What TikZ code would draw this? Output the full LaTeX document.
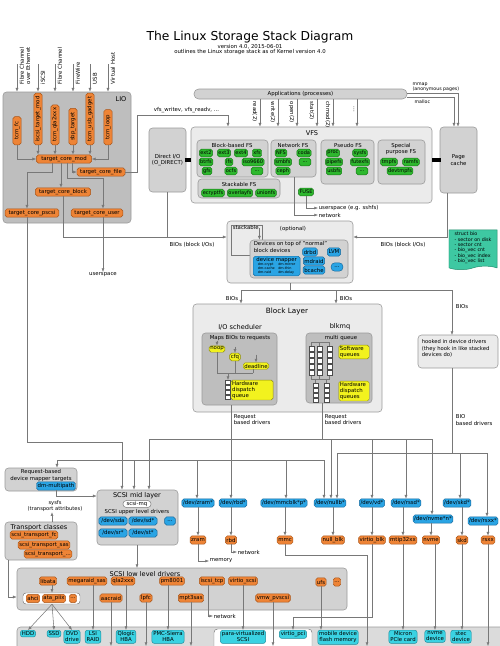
\documentclass[tikz,border=0pt]{standalone}
\usepackage{fontspec}
\setmainfont{DejaVu Sans}
\usepackage{tikz}
\usetikzlibrary{arrows.meta, positioning, fit, shapes.symbols}

\definecolor{groupLight}{HTML}{EBEBEB}
\definecolor{groupMid}{HTML}{D2D2D2}
\definecolor{groupDark}{HTML}{BEBEBE}
\definecolor{edgeGray}{HTML}{9A9A9A}
\definecolor{lineGray}{HTML}{787878}
\definecolor{drvFill}{HTML}{EE8436}
\definecolor{drvEdge}{HTML}{A85418}
\definecolor{fsFill}{HTML}{2EB82E}
\definecolor{fsEdge}{HTML}{1B7A1B}
\definecolor{devFill}{HTML}{2AA4E4}
\definecolor{devEdge}{HTML}{17689C}
\definecolor{qFill}{HTML}{F2F21E}
\definecolor{qEdge}{HTML}{8C8C10}
\definecolor{hwFill}{HTML}{3AD2E2}
\definecolor{hwEdge}{HTML}{1B8C9C}
\definecolor{bioFill}{HTML}{3EC8A2}
\definecolor{bioEdge}{HTML}{1E8A6A}

\newcommand{\diagsub}{\fontsize{4.6}{5.2}\selectfont}
\newcommand{\diagsmall}{\fontsize{4.6}{5.3}\selectfont}
\newcommand{\diagfs}{\fontsize{4.3}{5}\selectfont}
\newcommand{\diagtiny}{\fontsize{2.9}{3.3}\selectfont}
\newcommand{\diaghead}{\fontsize{5.6}{6.4}\selectfont}

\begin{document}
\begin{tikzpicture}[
    x=0.3mm, y=-0.3mm,
    % Linien und Pfeile
    conn/.style={draw=lineGray, line width=0.45pt},
    arr/.style={conn, -{Latex[length=3.2pt, width=2.6pt]}},
    % Hintergrund-Boxen
    grplight/.style={draw=edgeGray, fill=groupLight, rounded corners=3pt, inner sep=0pt, line width=0.5pt},
    grpmid/.style={grplight, fill=groupMid},
    grpdark/.style={grplight, fill=groupDark},
    % Beschriftungen
    txt/.style={font=\diagsmall, inner sep=0.5pt},
    headtxt/.style={font=\diaghead, inner sep=0.5pt},
    % Knoten nach Farbe
    drvnode/.style={draw=drvEdge, fill=drvFill, rounded corners=1.6pt, font=\diagsmall, inner sep=1pt, minimum height=7pt},
    fsnode/.style={draw=fsEdge, fill=fsFill, rounded corners=1.6pt, font=\diagfs, inner sep=0.9pt, minimum height=6.5pt},
    devnode/.style={draw=devEdge, fill=devFill, rounded corners=1.6pt, font=\diagsmall, inner sep=1pt, minimum height=7pt},
    queuenode/.style={draw=qEdge, fill=qFill, rounded corners=1.6pt, font=\diagsmall, inner sep=1pt, align=left},
    hwnode/.style={draw=hwEdge, fill=hwFill, rounded corners=2pt, font=\diagsmall, inner sep=1.2pt, align=center, anchor=north},
    cell/.style={draw=black!70, fill=white, line width=0.3pt}
  ]
  \useasboundingbox (0,0) rectangle (500,646);

  % --- TITEL ---
  \node[font=\fontsize{10.5}{12}\selectfont] (title) at (250,37) {The Linux Storage Stack Diagram};
  \node[font=\diagsub, inner sep=0pt] (version) at (250,47) {version 4.0, 2015-06-01};
  \node[font=\diagsub, inner sep=0pt] (outline) at (250,52.5) {outlines the Linux storage stack as of Kernel version 4.0};

  % --- LIO ---
  \node[grpdark, fit={(3,92) (131,223)}] (lio) {};
  \node[headtxt] at (121,99) {LIO};
  \node[drvnode, rotate=90, anchor=west, minimum width=24pt] (tcmfc) at (17,145) {tcm\_fc};
  \node[drvnode, rotate=90, anchor=west, minimum width=44pt] (iscsitgt) at (38,145) {iscsi\_target\_mod};
  \node[drvnode, rotate=90, anchor=west, minimum width=34pt] (tcmqla) at (55,145) {tcm\_qla2xxx};
  \node[drvnode, rotate=90, anchor=west, minimum width=31pt] (sbptgt) at (73,145) {sbp\_target};
  \node[drvnode, rotate=90, anchor=west, minimum width=44pt] (tcmusb) at (90,145) {tcm\_usb\_gadget};
  \node[drvnode, rotate=90, anchor=west, minimum width=30pt] (tcmloop) at (108,145) {tcm\_loop};

  % Eingaenge der Fabrics
  \coordinate (inFcoe) at (17,64);
  \coordinate (inIscsi) at (38,64);
  \coordinate (inFc) at (55,64);
  \coordinate (inFw) at (73,64);
  \coordinate (inUsb) at (90,64);
  \coordinate (inVhost) at (108,64);
  \node[txt, rotate=90, anchor=north west, align=left] at (19,85) {Fibre Channel\\over Ethernet};
  \node[txt, rotate=90, anchor=north west] at (40,85) {iSCSI};
  \node[txt, rotate=90, anchor=north west] at (57,85) {Fibre Channel};
  \node[txt, rotate=90, anchor=north west] at (75,85) {FireWire};
  \node[txt, rotate=90, anchor=north west] at (92,85) {USB};
  \node[txt, rotate=90, anchor=north west] at (110,85) {Virtual Host};
  \draw[arr] (inFcoe) -- (inFcoe |- lio.north);
  \draw[arr] (inIscsi) -- (inIscsi |- lio.north);
  \draw[arr] (inFc) -- (inFc |- lio.north);
  \draw[arr] (inFw) -- (inFw |- lio.north);
  \draw[arr] (inUsb) -- (inUsb |- lio.north);
  \draw[arr] (inVhost) -- (inVhost |- lio.north);

  \node[drvnode, minimum width=47pt] (tcmod) at (64,159) {target\_core\_mod};
  \node[drvnode, minimum width=41pt] (tcfile) at (101,172) {target\_core\_file};
  \node[drvnode, minimum width=47pt] (tcblock) at (63,192) {target\_core\_block};
  \node[drvnode, minimum width=46pt] (tcpscsi) at (32,213) {target\_core\_pscsi};
  \node[drvnode, minimum width=44pt] (tcuser) at (97,213) {target\_core\_user};

  \draw[arr] (tcmfc.west) |- (tcmod.west);
  \draw[arr] (iscsitgt.west) -- (iscsitgt.west |- tcmod.north);
  \draw[arr] (tcmqla.west) -- (tcmqla.west |- tcmod.north);
  \draw[arr] (sbptgt.west) -- (sbptgt.west |- tcmod.north);
  \draw[arr] (tcmusb.west) -- (tcmusb.west |- tcmod.north);
  \draw[arr] (tcmloop.west) |- (tcmod.east);
  \draw[arr] (tcmod.south -| 52,0) -- (52,172) -| (tcpscsi.north -| 27,0);
  \draw[arr] (tcmod.south -| 61,0) -- (tcblock.north -| 61,0);
  \draw[arr] (tcmod.south -| 67,0) -- (67,178) -| (tcuser.north -| 103,0);
  \draw[arr] (tcmod.south -| 72,0) |- (tcfile.west);

  \node[txt, anchor=north] (usrsp) at (103,272) {userspace};
  \draw[arr] (tcuser.south -| 103,0) -- (usrsp.north);

  % --- APPLICATIONS / VFS ---
  \node[grpmid, rounded corners=4pt, fit={(194,89) (407,99)}] (apps) {};
  \node[txt] at (apps.center) {Applications (processes)};

  \node[grpmid, fit={(149,128) (186,192)}] (dio) {};
  \node[txt, align=center] at (dio.center) {Direct I/O\\(O\_DIRECT)};

  \node[grplight, fit={(191,127) (432,203)}] (vfs) {};
  \node[headtxt] at (312,133) {VFS};

  \node[grpmid, fit={(440,127) (477,193)}] (pcache) {};
  \node[txt, align=center] at (pcache.center) {Page\\cache};

  \draw[line width=3pt] ([xshift=-1.5pt]dio.east) -- (dio.east -| vfs.west);
  \draw[line width=3pt] (vfs.east |- pcache.west) -- ([xshift=1.5pt]pcache.west);

  % Systemaufrufe
  \node[txt, rotate=-90, anchor=north west] at (258,101) {read(2)};
  \node[txt, rotate=-90, anchor=north west] at (276,101) {write(2)};
  \node[txt, rotate=-90, anchor=north west] at (295,101) {open(2)};
  \node[txt, rotate=-90, anchor=north west] at (315,101) {stat(2)};
  \node[txt, rotate=-90, anchor=north west] at (331,101) {chmod(2)};
  \node[txt, rotate=-90, anchor=north west] at (355,106) {...};
  \draw[arr] (apps.south -| 260,0) -- (vfs.north -| 260,0);
  \draw[arr] (apps.south -| 278,0) -- (vfs.north -| 278,0);
  \draw[arr] (apps.south -| 297,0) -- (vfs.north -| 297,0);
  \draw[arr] (apps.south -| 317,0) -- (vfs.north -| 317,0);
  \draw[arr] (apps.south -| 333,0) -- (vfs.north -| 333,0);
  \draw[arr] (apps.south -| 357,0) -- (vfs.north -| 357,0);

  \draw[arr] (apps.east |- 0,93.5) -| (pcache.north -| 458,0);
  \draw[arr] (apps.east |- 0,97.5) -| (pcache.north -| 454,0);
  \node[font=\fontsize{4}{4.4}\selectfont, inner sep=0.3pt, anchor=south west, align=left] at (412,92) {mmap\\(anonymous pages)};
  \node[font=\fontsize{4}{4.4}\selectfont, inner sep=0.3pt, anchor=north west] at (414,99) {malloc};

  \node[txt, anchor=south west] at (153,114) {vfs\_writev, vfs\_readv, ...};
  \draw[arr] (tcfile.east) -| (137,115) -| (vfs.north -| 228,0);

  % Block-based FS
  \node[grpmid, fit={(197,140) (268,177)}] (blockfs) {};
  \node[txt] at (232,145) {Block-based FS};
  \node[fsnode] (ext2) at (206,153) {ext2};
  \node[fsnode] (ext3) at (224,153) {ext3};
  \node[fsnode] (ext4) at (241,153) {ext4};
  \node[fsnode] (xfs) at (257,153) {xfs};
  \node[fsnode] (btrfs) at (206,162) {btrfs};
  \node[fsnode] (ifs) at (229,162) {ifs};
  \node[fsnode] (iso) at (253,162) {iso9660};
  \node[fsnode] (gfs) at (207,171) {gfs};
  \node[fsnode] (ocfs) at (231,171) {ocfs};
  \node[fsnode, minimum width=10pt] (bfsmore) at (257,171) {...};

  % Network FS
  \node[grpmid, fit={(271,140) (316,177)}] (netfs) {};
  \node[txt] at (293,145) {Network FS};
  \node[fsnode] (nfs) at (281,153) {NFS};
  \node[fsnode] (coda) at (304,153) {coda};
  \node[fsnode] (smbfs) at (283,162) {smbfs};
  \node[fsnode, minimum width=10pt] (nfsmore) at (305,162) {...};
  \node[fsnode] (ceph) at (283,171) {ceph};

  % Pseudo FS
  \node[grpmid, fit={(321,140) (374,184)}] (pseudofs) {};
  \node[txt] at (348,145) {Pseudo FS};
  \node[fsnode] (proc) at (333,153) {proc};
  \node[fsnode] (sysfs) at (360,153) {sysfs};
  \node[fsnode] (pipefs) at (334,162) {pipefs};
  \node[fsnode] (futexfs) at (360,162) {futexfs};
  \node[fsnode] (usbfs) at (334,171) {usbfs};
  \node[fsnode, minimum width=10pt] (psmore) at (362,171) {...};

  % Special purpose FS
  \node[grpmid, fit={(378,140) (425,184)}] (specialfs) {};
  \node[txt, align=center] at (401,149) {Special\\purpose FS};
  \node[fsnode] (tmpfs) at (389,162) {tmpfs};
  \node[fsnode] (ramfs) at (411,162) {ramfs};
  \node[fsnode] (devtmpfs) at (400,171) {devtmpfs};

  % Stackable FS
  \node[grpmid, fit={(198,179) (280,198)}] (stackfs) {};
  \node[txt] at (239,184) {Stackable FS};
  \node[fsnode] (ecryptfs) at (213,193) {ecryptfs};
  \node[fsnode] (overlayfs) at (240,193) {overlayfs};
  \node[fsnode] (unionfs) at (266,193) {unionfs};

  \node[fsnode] (fuse) at (306,192) {FUSE};
  \node[txt, anchor=west] (usrsshfs) at (318,208) {userspace (e.g. sshfs)};
  \node[txt, anchor=west] (netvfs) at (318,215) {network};
  \draw[arr] (fuse.south) |- (usrsshfs.west);
  \draw[arr] (netfs.south -| 294,0) |- (netvfs.west);

  % --- STACKABLE DEVICES ---
  \node[grplight, fit={(227,221) (353,283)}] (stackreg) {};
  \node[conn, fit={(231,225) (262,255)}, inner sep=0pt] (stackbox) {};
  \node[txt, anchor=north west] (stacklbl) at (232,225) {stackable};
  \node[txt] at (293,229) {(optional)};
  \node[grpmid, fit={(250,240) (348,278)}] (devtop) {};
  \draw[arr] (stacklbl.east) -- (stacklbl.east |- devtop.north);
  \node[txt, anchor=north west, align=left] at (253,241) {Devices on top of "normal"\\block devices};
  \node[devnode, anchor=north west, minimum width=40pt, inner sep=1.2pt, align=center] (dm) at (253,256)
    {device mapper\\[-1pt]{\diagtiny\setlength{\tabcolsep}{1.5pt}\begin{tabular}{@{}ll@{}}dm-crypt & dm-mirror\\ dm-cache & dm-thin\\ dm-raid & dm-delay\end{tabular}}};
  \node[devnode] (drbd) at (310,252) {drbd};
  \node[devnode] (lvm) at (334,252) {LVM};
  \node[devnode] (mdraid) at (314,261) {mdraid};
  \node[devnode] (bcache) at (314,270) {bcache};
  \node[devnode, rounded corners=3pt, minimum width=10pt] (dmmore) at (337,267) {...};

  \draw[conn] (tcblock.south) -- (63,237);
  \draw[conn] (dio.south) -- (dio.south |- 0,237);
  \draw[arr] (63,237) -- (stackreg.west |- 0,237);
  \node[txt] at (192,245) {BIOs (block I/Os)};
  \draw[arr] (pcache.south -| 447,0) |- (stackreg.east |- 0,237);
  \node[txt] at (403,245) {BIOs (block I/Os)};

  % struct bio
  \node[tape, tape bend top=none, tape bend bottom=in and out, tape bend height=3pt,
        draw=bioEdge, fill=bioFill, minimum width=41pt, minimum height=34pt,
        font=\fontsize{4.1}{4.6}\selectfont, align=left, inner sep=1pt] (structbio) at (473,248)
    {struct bio\\- sector on disk\\- sector cnt\\- bio\_vec cnt\\- bio\_vec index\\- bio\_vec list};

  % --- BLOCK LAYER ---
  \node[grplight, fit={(193,304) (382,412)}] (blocklayer) {};
  \node[headtxt, font=\fontsize{6.2}{7}\selectfont] at (287,311) {Block Layer};

  \draw[conn] (stackreg.south -| 290,0) -- (290,290);
  \draw[arr] (290,290) -| (blocklayer.north -| 241,0);
  \draw[arr] (290,290) -| (452,335);
  \draw[arr] (336,290) -- (blocklayer.north -| 336,0);
  \node[txt, anchor=east] at (239,299) {BIOs};
  \node[txt, anchor=west] at (339,299) {BIOs};
  \node[txt, anchor=west] at (455,307) {BIOs};

  % I/O scheduler
  \node[headtxt] at (240,327) {I/O scheduler};
  \node[grpdark, fit={(202,333) (277,405)}] (iosched) {};
  \node[txt] at (240,338) {Maps BIOs to requests};
  \node[queuenode] (noop) at (217,349) {noop};
  \node[queuenode] (cfq) at (235,357) {cfq};
  \node[queuenode] (deadline) at (256,366) {deadline};
  \node[queuenode, text width=34pt] (hwq) at (252,390) {Hardware\\dispatch\\queue};
  \draw[arr] (noop.north) ++(0,-5) -- (noop.north);
  \draw[arr] (cfq.north) ++(0,-6) -- (cfq.north);
  \draw[arr] (deadline.north) ++(0,-8) -- (deadline.north);
  \draw[conn] (noop.south) -- (217,373);
  \draw[conn] (cfq.south) -- (235,373);
  \draw[conn] (deadline.south -| 253,0) -- (253,373);
  \draw[conn] (217,373) -- (253,373);
  \coordinate (ioqtop) at (228,380);
  \draw[arr] (228,373) -- (ioqtop);
  \foreach \qy in {380,385,390,395}
    \draw[cell] (225.5,\qy) rectangle ++(5,4.5);

  % blk-mq
  \node[headtxt] at (340,327) {blkmq};
  \node[grpdark, fit={(306,333) (372,403)}] (mq) {};
  \node[txt] at (341,338) {multi queue};
  \node[queuenode, text width=24pt] (swq) at (354,352) {Software\\queues};
  \node[queuenode, text width=24pt] (hwqs) at (354,391) {Hardware\\dispatch\\queues};
  \foreach \qx in {309,317,327}
    \foreach \qy in {346,352,358,364,370}
      \draw[cell] (\qx,\qy) rectangle ++(5,5.5);
  \foreach \qx in {313,324}
    \foreach \qy in {383,388,393,398}
      \draw[cell] (\qx,\qy) rectangle ++(5,4.5);
  \draw[conn] (311.5,342) -- (329.5,342);
  \draw[conn] (311.5,342) -- (311.5,346) (319.5,342) -- (319.5,346) (329.5,342) -- (329.5,346);
  \draw[conn] (311.5,375.5) -- (311.5,379) -- (329.5,379) -- (329.5,375.5) (319.5,375.5) -- (319.5,379);
  \draw[conn] (315.5,379) -- (315.5,383) (326.5,379) -- (326.5,383);

  % hooked in device drivers
  \node[grplight, fit={(418,335) (498,368)}] (hooked) {};
  \node[txt, font=\fontsize{4.5}{5.6}\selectfont, anchor=north west, align=left] at (421,339)
    {hooked in device drivers\\(they hook in like stacked\\devices do)};

  \node[txt, anchor=north west, align=left] at (233,414) {Request\\based drivers};
  \node[txt, anchor=north west, align=left] at (324,414) {Request\\based drivers};
  \node[txt, anchor=north west, align=left] at (455,414) {BIO\\based drivers};

  % --- VERTEILUNG ZU DEN TREIBERN ---
  % Anfrage-basiert (multi queue)
  \draw[conn] (mq.south -| 322,0) -- (322,439);
  \draw[conn] (149,439) -- (432,439);
  % Anfrage-basiert (I/O scheduler)
  \draw[conn] (iosched.south -| 231,0) -- (231,460);
  \draw[conn] (57,460) -- (324,460);
  % BIO-basiert
  \draw[conn] (hooked.south -| 452,0) -- (452,453);
  \draw[conn] (337,453) -- (487,453);

  % Request-based device mapper
  \node[grpmid, fit={(5,468) (77,491)}] (reqdm) {};
  \node[txt, anchor=north, align=center] at (41,469) {Request-based\\device mapper targets};
  \node[devnode] (dmmp) at (56,486) {dm-multipath};
  \draw[arr] (57,460) -- (reqdm.north -| 57,0);

  % SCSI mid layer
  \node[grpmid, fit={(97,490) (178,545)}] (scsimid) {};
  \node[headtxt] at (137,496) {SCSI mid layer};
  \node[draw=lineGray, fill=white, rounded corners=3pt, font=\diagsmall, inner sep=0.8pt, minimum width=24pt] (scsimq) at (137,504) {scsi-mq};
  \node[txt] at (137,512) {SCSI upper level drivers};
  \node[devnode, minimum width=24pt] (sda) at (113,521) {/dev/sda};
  \node[devnode, minimum width=24pt] (sdx) at (143,521) {/dev/sd*};
  \node[devnode, minimum width=9pt] (scsimore) at (170,521) {...};
  \node[devnode, minimum width=24pt] (srx) at (113,533) {/dev/sr*};
  \node[devnode, minimum width=24pt] (stx) at (143,533) {/dev/st*};

  \draw[arr] (tcpscsi.south -| 27,0) |- (122,442) -- (scsimid.north -| 122,0);
  \draw[arr] (134,460) -- (scsimid.north -| 134,0);
  \draw[arr] (149,439) -- (scsimid.north -| 149,0);
  \draw[arr] (dmmp.south) |- (scsimid.west |- 0,496);

  % sysfs / transport classes
  \node[txt, font=\fontsize{4.4}{5}\selectfont, align=center] (sysfs) at (55,506) {sysfs\\(transport attributes)};
  \node[grpmid, fit={(5,522) (77,560)}] (transport) {};
  \node[headtxt] at (39,528) {Transport classes};
  \node[drvnode] (tfc) at (34,535) {scsi\_transport\_fc};
  \node[drvnode] (tsas) at (44,545) {scsi\_transport\_sas};
  \node[drvnode] (tmore) at (48,554) {scsi\_transport\_...};
  \draw[arr] (transport.north -| 52,0) -- (sysfs.south -| 52,0);

  % /dev Knoten (Block-Treiber)
  \node[devnode] (zramdev) at (198,503) {/dev/zram*};
  \node[devnode] (rbddev) at (233,503) {/dev/rbd*};
  \node[devnode] (mmcdev) at (284,503) {/dev/mmcblk*p*};
  \node[devnode] (nullbdev) at (330,503) {/dev/nullb*};
  \node[devnode] (vddev) at (372,503) {/dev/vd*};
  \node[devnode] (rssddev) at (406,503) {/dev/rssd*};
  \node[devnode] (nvmedev) at (433,519) {/dev/nvme*n*};
  \node[devnode] (skddev) at (457,503) {/dev/skd*};
  \node[devnode] (rsxxdev) at (483,521) {/dev/rsxx*};

  \draw[arr] (197,460) -- (zramdev.north -| 197,0);
  \draw[arr] (231,460) -- (rbddev.north -| 231,0);
  \draw[arr] (286,460) -- (mmcdev.north -| 286,0);
  \draw[arr] (324,460) -- (nullbdev.north -| 324,0);
  \draw[arr] (331,439) -- (nullbdev.north -| 331,0);
  \draw[arr] (337,453) -- (nullbdev.north -| 337,0);
  \draw[arr] (372,439) -- (vddev.north);
  \draw[arr] (406,439) -- (rssddev.north);
  \draw[arr] (432,439) -- (nvmedev.north -| 432,0);
  \draw[arr] (460,453) -- (skddev.north -| 460,0);
  \draw[arr] (487,453) -- (rsxxdev.north -| 487,0);

  % Block-Treiber
  \node[drvnode] (zram) at (198,540) {zram};
  \node[drvnode] (rbd) at (231,540) {rbd};
  \node[drvnode] (mmc) at (285,540) {mmc};
  \node[drvnode] (nullblk) at (333,540) {null\_blk};
  \node[drvnode] (virtioblk) at (372,540) {virtio\_blk};
  \node[drvnode] (mtip) at (403,540) {mtip32xx};
  \node[drvnode] (nvme) at (431,540) {nvme};
  \node[drvnode] (skd) at (462,540) {skd};
  \node[drvnode] (rsxx) at (488,540) {rsxx};

  \draw[arr] (zramdev) -- (zram);
  \draw[arr] (rbddev.south -| rbd.north) -- (rbd);
  \draw[arr] (mmcdev.south -| mmc.north) -- (mmc);
  \draw[arr] (nullbdev.south -| nullblk.north) -- (nullblk);
  \draw[arr] (vddev) -- (virtioblk);
  \draw[arr] (rssddev.south -| mtip.north) -- (mtip);
  \draw[arr] (nvmedev.south -| nvme.north) -- (nvme);
  \draw[arr] (skddev.south -| skd.north) -- (skd);
  \draw[arr] (rsxxdev.south -| rsxx.north) -- (rsxx);

  \node[txt, anchor=west] (mem) at (209,561) {memory};
  \node[txt, anchor=west] (netrbd) at (237,552) {network};
  \draw[arr] (zram.south) |- (mem.west);
  \draw[arr] (rbd.south) |- (netrbd.west);

  % --- SCSI LOW LEVEL DRIVERS ---
  \draw[arr] (scsimid.south -| 137,0) -- (137,568);
  \node[grpmid, fit={(17,568) (347,610)}] (scsilow) {};
  \node[headtxt] at (145,574) {SCSI low level drivers};
  \node[draw=lineGray, fill=white, rounded corners=2.5pt, fit={(23,593) (80,604)}, inner sep=0pt] (ahcigrp) {};
  \node[drvnode] (libata) at (48,581) {libata};
  \node[drvnode] (megaraid) at (87,581) {megaraid\_sas};
  \node[drvnode] (qla) at (123,581) {qla2xxx};
  \node[drvnode] (pm8001) at (172,581) {pm8001};
  \node[drvnode] (iscsitcp) at (212,581) {iscsi\_tcp};
  \node[drvnode] (virtioscsi) at (243,581) {virtio\_scsi};
  \node[drvnode] (ufs) at (321,582) {ufs};
  \node[drvnode] (lldmore) at (337,582) {...};
  \node[drvnode] (ahci) at (33,598.5) {ahci};
  \node[drvnode] (atapiix) at (54,598.5) {ata\_piix};
  \node[drvnode] (atamore) at (73,598.5) {...};
  \node[drvnode] (aacraid) at (111,598) {aacraid};
  \node[drvnode] (lpfc) at (146,598) {lpfc};
  \node[drvnode] (mpt3sas) at (191,598) {mpt3sas};
  \node[drvnode] (vmwpvscsi) at (273,598) {vmw\_pvscsi};

  \draw[arr] (libata.south -| 52,0) -- (ahcigrp.north -| 52,0);
  \draw[arr] (transport.south -| 8,0) |- (scsilow.west |- 0,597);
  \node[txt, anchor=west] (nettcp) at (213,616) {network};
  \draw[arr] (iscsitcp.south -| 208,0) |- (nettcp.west);

  % --- HARDWARE ---
  \coordinate (bottomEdge) at (0,646);
  \node[grpmid, fill=groupMid!80!white, fit={(17,627) (505,665)}] (hwarea) {};
  \node[fill=white, draw=lineGray, rounded corners=3pt, fit={(214,629) (312,665)}, inner sep=0pt] (pvbox) {};
  \node[hwnode] (hdd) at (28,630) {HDD};
  \node[hwnode] (ssd) at (54,630) {SSD};
  \node[hwnode] (dvd) at (72,630) {DVD\\drive};
  \node[hwnode] (lsi) at (93,630) {LSI\\RAID};
  \node[hwnode] (qlogic) at (126,630) {Qlogic\\HBA};
  \node[hwnode] (pmc) at (168,630) {PMC-Sierra\\HBA};
  \node[hwnode] (pvscsi) at (243,630) {para-virtualized\\SCSI};
  \node[hwnode] (vpci) at (293,630) {virtio\_pci};
  \node[hwnode] (mobile) at (338,630) {mobile device\\flash memory};
  \node[hwnode] (micron) at (403,630) {Micron\\PCIe card};
  \node[hwnode] (nvmehw) at (435,630) {nvme\\device};
  \node[hwnode] (stec) at (461,630) {stec\\device};

  \draw[arr] (ahcigrp.south -| 52,0) -- (hdd.north);
  \draw[arr] (ahcigrp.south -| 52,0) -- (ssd.north);
  \draw[arr] (ahcigrp.south -| 52,0) -- (dvd.north);
  \draw[arr] (megaraid.south -| lsi.north) -- (lsi.north);
  \draw[arr] (qla.south -| qlogic.north) -- (qlogic.north);
  \draw[arr] (pm8001.south -| pmc.north) -- (pmc.north);
  \draw[arr] (virtioscsi.south) -- (pvscsi.north);
  \draw[arr] (ufs.south) -- (ufs.south |- mobile.north);
  \draw[arr] (aacraid.south) -- (aacraid.south |- bottomEdge);
  \draw[arr] (lpfc.south) -- (lpfc.south |- bottomEdge);
  \draw[arr] (mpt3sas.south) -- (mpt3sas.south |- bottomEdge);
  \draw[arr] (vmwpvscsi.south) -- (vmwpvscsi.south |- bottomEdge);
  \draw[arr] (virtioblk.south) |- (vpci.north |- 0,617) -- (vpci.north);
  \draw[arr] (mmc.south) |- (367,555) -- (367,646);
  \draw[arr] (mtip.south) -- (micron.north);
  \draw[arr] (nvme.south -| nvmehw.north) -- (nvmehw.north);
  \draw[arr] (skd.south) -- (skd.south |- stec.north);
  \draw[arr] (rsxx.south) -- (rsxx.south |- bottomEdge);

\end{tikzpicture}
\end{document}
